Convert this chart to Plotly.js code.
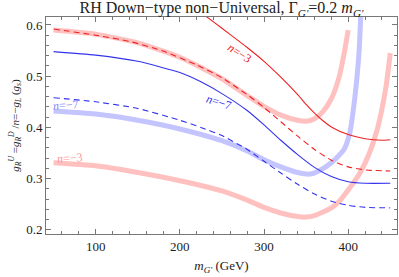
<!DOCTYPE html>
<html><head><meta charset="utf-8">
<script src="https://cdn.plot.ly/plotly-3.0.1.min.js"></script>
<style>body{margin:0;padding:0;background:#fff}#c{width:399px;height:277px}</style>
</head><body><div id="c"></div>
<script>
// Thin red solid (n=-3)
const redSolidX = [220, 240, 260, 280, 300, 320, 340, 350, 360, 370, 380, 400, 420, 440, 450];
const redSolidY = [0.630, 0.606, 0.581, 0.556, 0.529, 0.498, 0.464, 0.445, 0.428, 0.413, 0.401, 0.386, 0.378, 0.375, 0.376];
// Thin red dashed
const redDashX = [50, 100, 140, 180, 220, 250, 280, 300, 320, 340, 360, 380, 400, 420, 450];
const redDashY = [0.592, 0.580, 0.568, 0.549, 0.522, 0.497, 0.464, 0.439, 0.411, 0.383, 0.357, 0.336, 0.323, 0.317, 0.315];
// Thin blue solid (n=-7)
const blueSolidX = [50, 100, 150, 200, 225, 250, 280, 300, 320, 340, 360, 380, 400, 420, 450];
const blueSolidY = [0.548, 0.541, 0.529, 0.507, 0.489, 0.466, 0.433, 0.405, 0.375, 0.347, 0.322, 0.304, 0.294, 0.291, 0.291];
// Thin blue dashed
const blueDashX = [50, 100, 150, 200, 225, 250, 280, 300, 320, 340, 360, 380, 400, 420, 450];
const blueDashY = [0.458, 0.450, 0.437, 0.414, 0.400, 0.384, 0.357, 0.334, 0.311, 0.289, 0.270, 0.256, 0.248, 0.244, 0.243];
// Thick pink, upper band
const pinkUpX = [50, 100, 150, 200, 250, 280, 300, 320, 340, 350, 360, 370, 380, 385, 390, 395, 400];
const pinkUpY = [0.590, 0.582, 0.565, 0.537, 0.495, 0.462, 0.441, 0.424, 0.414, 0.412, 0.417, 0.431, 0.456, 0.476, 0.503, 0.543, 0.590];
// Thick pink, lower band (n=-3)
const pinkLowX = [50, 100, 150, 200, 250, 280, 300, 320, 340, 350, 360, 380, 390, 400, 414, 425, 434, 440, 445, 450];
const pinkLowY = [0.331, 0.325, 0.312, 0.296, 0.276, 0.258, 0.244, 0.233, 0.226, 0.225, 0.228, 0.243, 0.257, 0.278, 0.311, 0.349, 0.393, 0.435, 0.480, 0.545];
// Thick lavender band (n=-7)
const lavX = [50, 100, 150, 200, 250, 280, 300, 320, 340, 355, 365, 380, 395, 402, 406, 410, 413, 415];
const lavY = [0.432, 0.426, 0.414, 0.397, 0.374, 0.354, 0.337, 0.323, 0.312, 0.309, 0.315, 0.331, 0.357, 0.390, 0.433, 0.490, 0.550, 0.620];

const labelText = ["<i>n</i>=\u22123", "<i>n</i>=\u22127", "<i>n</i>=\u22127", "<i>n</i>=\u22123"];
const labelX = [271, 246, 65, 69];
const labelY = [0.546, 0.449, 0.444, 0.340];
const labelAngle = [33, 18, -4, -4];
const labelColor = ["#ee2222", "#3333ee", "#8888ff", "#ff9999"];

const thin = 1.1, thick = 5;
const traces = [
  {x: pinkUpX, y: pinkUpY, line: {color: "rgba(255,185,185,0.9)", width: thick}},
  {x: pinkLowX, y: pinkLowY, line: {color: "rgba(255,185,185,0.9)", width: thick}},
  {x: lavX, y: lavY, line: {color: "rgba(190,190,255,0.9)", width: thick}},
  {x: redSolidX, y: redSolidY, line: {color: "#ee2222", width: thin}},
  {x: redDashX, y: redDashY, line: {color: "#ee2222", width: thin, dash: "6px,4px"}},
  {x: blueSolidX, y: blueSolidY, line: {color: "#3333ee", width: thin}},
  {x: blueDashX, y: blueDashY, line: {color: "#3333ee", width: thin, dash: "6px,4px"}}
].map(t => Object.assign({type: "scatter", mode: "lines", hoverinfo: "skip", showlegend: false}, t, {line: Object.assign({shape: "spline", smoothing: 0.6}, t.line)}));

const serif = "Liberation Serif, Times New Roman, serif";
const axisCommon = {
  showline: true, mirror: "allticks", linecolor: "#777", linewidth: 1,
  ticks: "inside", ticklen: 5, tickcolor: "#777", showgrid: false, zeroline: false,
  tickfont: {family: serif, size: 13, color: "#222"},
};
const layout = {
  width: 399, height: 277,
  margin: {l: 46, r: 2, t: 17, b: 43},
  paper_bgcolor: "#fff", plot_bgcolor: "#fff",
  title: {text: "RH Down\u2212type non\u2212Universal, \u0393<sub><i>G'</i></sub>=0.2 <i>m<sub>G'</sub></i>",
          font: {family: serif, size: 16, color: "#222"}, x: 0.555, xanchor: "center", y: 0.972, yanchor: "middle"},
  xaxis: Object.assign({}, axisCommon, {
    range: [41, 458], tickvals: [100, 200, 300, 400],
    minor: {dtick: 20, tick0: 0, ticks: "inside", ticklen: 3, tickcolor: "#777", showgrid: false},
    title: {text: "<i>m<sub>G'</sub></i> (GeV)", font: {family: serif, size: 13, color: "#222"}, standoff: 8}
  }),
  yaxis: Object.assign({}, axisCommon, {
    range: [0.192, 0.6155], tickvals: [0.2, 0.3, 0.4, 0.5, 0.6], ticktext: ["0.2", "0.3", "0.4", "0.5", "0.6"],
    minor: {dtick: 0.02, tick0: 0, ticks: "inside", ticklen: 3, tickcolor: "#777", showgrid: false},
    title: {text: "<i>g<sub>R</sub><sup>U</sup></i> =<i>g<sub>R</sub><sup>D</sup></i> /<i>n</i>=\u2212<i>g<sub>L</sub></i> (<i>g<sub>s</sub></i>)",
            font: {family: serif, size: 11, color: "#222"}, standoff: 4}
  }),
  annotations: labelText.map((t, i) => ({
    x: labelX[i], y: labelY[i], text: t, showarrow: false, textangle: labelAngle[i],
    font: {family: serif, size: 12, color: labelColor[i]}
  }))
};
Plotly.newPlot("c", traces, layout, {staticPlot: true, displayModeBar: false});
</script></body></html>
